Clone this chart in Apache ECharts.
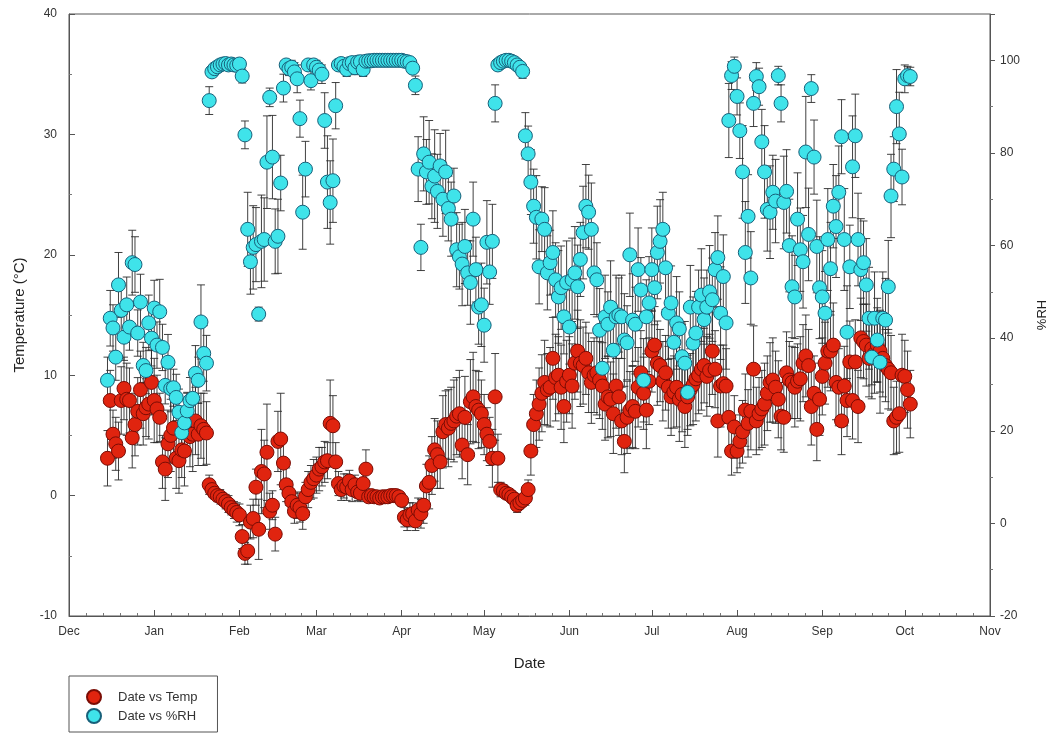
<!DOCTYPE html>
<html><head><meta charset="utf-8">
<script src="https://cdn.jsdelivr.net/npm/echarts@6/dist/echarts.min.js"></script>
<style>html,body{margin:0;padding:0;background:#fff}#c{width:1059px;height:733px}</style>
</head><body><div id="c"></div>
<script>
// first reading: 15 Dec 2005, one reading per day
const startDate = [2005, 11, 15];
const monthNames = ['Jan','Feb','Mar','Apr','May','Jun','Jul','Aug','Sep','Oct','Nov','Dec'];

const temp = [
/*Dec*/ 3.1,7.9,5.1,4.3,3.7,7.9,8.9,8.0,7.9,4.8,5.9,7.0,8.8,6.8,7.3,7.6,9.4,
/*Jan*/ 7.9,7.2,6.5,2.8,2.2,4.3,5.0,5.6,3.1,2.9,3.8,3.7,5.9,4.9,5.1,6.2,5.1,5.8,5.5,5.2,0.9,0.5,0.2,0.0,-0.1,-0.3,-0.5,-0.7,-1.0,-1.2,-1.4,
/*Feb*/ -1.6,-3.4,-4.8,-4.6,-2.2,-1.9,0.7,-2.8,2.0,1.8,3.6,-1.3,-0.8,-3.2,4.5,4.7,2.7,0.9,0.2,-0.5,-1.3,-0.8,-1.0,-1.5,-0.1,0.5,1.1,1.4,
/*Mar*/ 1.7,2.2,2.4,2.8,2.9,6.0,5.8,2.8,1.0,0.5,0.8,0.7,1.2,0.5,0.9,0.3,0.2,1.0,2.2,-0.1,0.0,-0.1,-0.1,-0.2,-0.1,-0.1,-0.1,0.0,0.0,0.0,-0.1,
/*Apr*/ -0.4,-1.8,-2.0,-1.6,-1.5,-2.1,-1.2,-1.5,-0.8,0.8,1.1,2.5,3.8,3.4,2.8,5.3,5.9,5.6,6.0,6.2,6.6,6.8,4.2,6.5,3.4,7.8,8.2,7.4,7.1,6.8,
/*May*/ 5.9,5.1,4.5,3.1,8.2,3.1,0.5,0.4,0.2,0.1,-0.1,-0.3,-0.8,-0.6,-0.4,-0.2,0.5,3.7,5.9,6.8,7.6,8.5,9.4,8.8,9.0,11.4,9.8,10.0,9.0,7.4,9.5,
/*Jun*/ 10.0,9.1,11.0,12.0,11.0,10.8,11.4,10.2,9.4,10.0,10.2,9.6,9.1,7.6,8.2,8.0,6.8,9.1,8.2,6.2,4.5,6.5,7.1,7.4,7.0,9.0,10.2,8.5,7.1,9.5,
/*Jul*/ 12.0,12.5,11.0,10.8,9.5,10.2,9.0,8.2,8.6,9.0,8.0,8.4,7.4,8.2,8.8,9.2,9.7,10.0,10.5,10.8,9.9,10.4,12.0,10.5,6.2,9.1,9.3,9.1,6.5,3.7,5.7,
/*Aug*/ 3.7,4.5,5.3,7.1,6.0,7.0,10.5,6.2,6.8,7.2,7.6,8.5,9.4,9.6,9.0,8.0,6.6,6.5,10.2,9.6,9.4,9.0,9.5,9.7,11.0,11.6,10.8,7.4,8.5,5.5,8.0,
/*Sep*/ 9.9,11.0,12.0,12.0,12.5,9.4,9.0,6.2,9.1,7.9,11.1,7.9,11.1,7.4,13.1,12.8,12.5,11.4,12.2,11.8,12.5,12.0,11.4,10.8,10.5,10.2,6.2,6.5,6.8,10.0,
/*Oct*/ 9.9,8.8,7.6
];

const tempErr = [
/*Dec*/ 2.3,2.5,2.0,2.2,2.4,2.8,2.6,3.0,2.7,2.5,2.6,2.8,3.2,2.6,2.4,2.9,2.7,
/*Jan*/ 3.5,2.8,2.0,2.2,2.6,2.8,3.0,2.4,2.5,2.7,2.3,2.9,2.6,2.5,3.1,2.8,2.6,2.7,3.0,2.6,0.8,0.6,0.5,0.5,0.6,0.5,0.6,0.7,0.6,0.7,0.8,
/*Feb*/ 0.9,1.0,0.9,1.1,1.4,1.6,1.5,2.5,3.5,2.8,4.0,1.5,1.2,1.4,2.5,3.8,2.2,1.4,1.0,0.9,1.0,1.1,1.2,1.3,1.2,1.5,1.4,1.6,
/*Mar*/ 1.5,1.8,1.6,1.7,1.5,3.6,2.5,1.6,1.0,0.9,1.0,1.1,0.9,1.0,0.8,0.7,0.7,0.9,1.6,0.4,0.3,0.3,0.3,0.3,0.3,0.2,0.3,0.3,0.3,0.3,0.3,
/*Apr*/ 0.5,0.8,0.9,1.0,0.9,0.8,1.0,1.2,1.5,1.8,2.2,2.4,2.6,2.8,2.2,3.0,2.8,3.2,3.0,3.4,3.2,3.6,2.8,3.4,2.5,3.5,3.7,3.0,3.2,2.8,
/*May*/ 2.5,2.2,2.0,2.4,3.6,2.0,0.6,0.5,0.4,0.4,0.5,0.5,0.6,0.5,0.5,0.6,0.8,2.0,2.5,2.8,3.0,3.2,3.5,3.0,3.3,3.4,3.6,3.2,3.5,3.0,3.4,
/*Jun*/ 3.2,3.5,3.0,3.4,3.6,3.2,3.0,3.3,3.4,3.1,3.5,3.2,3.6,3.0,3.4,3.1,3.3,3.5,3.2,2.8,2.6,3.0,3.2,3.4,3.1,3.3,3.5,3.0,3.2,3.6,
/*Jul*/ 3.4,3.2,3.5,3.0,3.3,3.1,3.4,3.2,3.0,3.3,3.5,3.1,3.4,3.2,3.0,3.3,3.5,3.2,3.4,3.1,3.3,3.0,3.6,3.2,3.0,3.4,3.2,3.1,2.8,2.0,2.6,
/*Aug*/ 1.8,2.2,2.6,3.0,2.8,3.2,3.6,2.8,3.0,3.2,3.4,3.1,3.3,3.5,3.0,3.2,2.8,2.9,3.4,3.2,3.0,3.3,3.1,3.5,3.2,3.4,3.0,3.2,3.1,2.6,3.0,
/*Sep*/ 3.2,3.4,3.0,3.3,3.5,3.1,3.2,2.8,3.3,3.0,3.4,3.2,3.5,3.0,3.3,3.1,3.4,3.2,3.0,3.3,3.1,3.4,3.2,3.0,3.3,3.1,2.8,3.0,3.2,3.4,
/*Oct*/ 3.0,3.2,2.8
];

const rh = [
/*Dec*/ 30.9,44.3,42.2,35.9,51.5,46.0,40.2,47.2,42.4,56.3,55.9,41.1,47.8,34.1,33.0,43.3,40.0,
/*Jan*/ 46.5,38.5,45.7,38.0,29.8,34.8,29.1,29.3,27.2,24.0,19.6,21.7,24.3,26.5,27.0,32.4,30.9,43.5,36.7,34.6,91.3,97.5,98.2,98.6,99.0,99.2,99.3,99.0,99.2,99.0,98.9,
/*Feb*/ 99.2,96.6,83.9,63.5,56.5,59.6,60.2,45.2,60.9,61.3,78.0,92.0,79.1,60.9,62.0,73.5,94.0,99.0,98.2,98.5,97.5,96.0,87.4,67.2,76.5,99.0,95.6,99.0,
/*Mar*/ 98.5,97.9,97.0,87.0,73.7,69.3,74.0,90.2,99.0,99.3,98.7,98.0,99.3,99.5,98.4,99.6,99.7,98.0,99.8,99.9,99.9,100,100,100,100,100,100,100,100,100,100,
/*Apr*/ 100,99.8,99.7,99.5,98.3,94.6,76.5,59.6,79.8,75.9,78.0,72.8,75.0,71.7,77.2,70.0,75.9,68.0,65.7,70.7,59.1,57.6,56.0,59.8,54.1,52.0,65.7,54.8,46.7,47.2,
/*May*/ 42.8,60.7,54.3,60.9,90.7,99.0,99.5,99.8,100,100,99.8,99.5,99.0,98.5,97.6,83.7,79.8,73.7,68.5,66.1,55.4,65.7,63.5,54.1,56.3,58.5,52.6,48.9,50.9,44.6,52.0,
/*Jun*/ 42.4,52.6,54.1,51.1,57.0,62.8,68.5,67.2,63.5,54.1,52.6,41.7,33.5,44.6,43.0,46.7,37.4,44.6,45.0,44.6,39.6,39.0,58.0,43.9,43.0,54.8,50.4,30.9,44.6,47.6,
/*Jul*/ 54.8,50.9,58.5,60.9,63.5,55.2,45.4,47.6,39.1,43.3,42.0,36.0,34.6,28.3,46.7,38.9,41.1,46.7,49.3,44.0,46.7,50.0,48.3,54.8,57.4,45.4,53.3,43.3,87.0,96.7,98.7,
/*Aug*/ 92.2,84.8,75.9,58.5,66.3,53.0,90.7,96.5,94.3,82.4,75.9,67.8,67.2,71.5,69.6,96.7,90.7,69.3,71.7,60.0,51.1,48.9,65.7,59.1,56.5,80.2,62.4,93.9,79.1,59.8,50.9,
/*Sep*/ 48.9,45.4,61.3,55.0,68.5,64.1,71.5,83.5,61.3,41.3,55.4,77.0,83.7,61.3,54.8,56.3,51.5,44.3,35.9,44.3,39.6,34.8,44.3,43.9,51.1,70.7,76.5,90.0,84.1,74.8,
/*Oct*/ 96.0,96.7,96.5
];

const rhErr = [
/*Dec*/ 5,6,5,5,7,6,5,6,5,7,6,5,6,5,5,6,6,
/*Jan*/ 6,5,7,5,4,6,5,4,5,5,4,5,4,5,5,6,5,8,6,6,3,1,1,0.8,0.6,0.5,0.5,0.6,0.5,0.6,0.7,
/*Feb*/ 0.8,1.5,3,8,7,9,8,1.5,10,9,10,2,9,7,8,6,3,1,1.5,1.5,2,3,4,8,6,1,2,1,
/*Mar*/ 1.5,1.5,2,6,10,9,9,5,1,1,1,1.5,1,1,1.5,0.8,0.8,1.5,0.5,0.4,0.4,0.4,0.3,0.3,0.3,0.3,0.3,0.3,0.3,0.3,0.3,
/*Apr*/ 0.3,0.4,0.5,0.6,1,2,7,5,8,7,9,7,10,8,7,8,9,7,8,6,8,7,9,8,7,9,8,7,8,9,
/*May*/ 8,9,7,8,4,1,0.8,0.5,0.4,0.4,0.5,0.6,0.8,1,1.5,5,6,7,8,9,8,7,9,8,7,9,8,10,9,8,9,
/*Jun*/ 8,9,10,9,8,10,9,8,10,9,8,9,8,9,7,10,8,9,8,9,10,8,9,10,8,9,7,9,8,10,
/*Jul*/ 9,8,10,9,8,9,10,8,9,10,8,7,9,8,9,10,9,8,10,9,8,10,9,8,9,10,9,10,8,3,2,
/*Aug*/ 4,6,10,11,9,10,5,3,4,7,10,9,10,8,9,2,4,10,9,10,11,9,10,9,10,12,10,3,8,10,11,
/*Sep*/ 10,9,11,10,9,11,10,8,11,10,9,11,9,10,11,9,10,11,9,10,9,11,10,9,10,9,7,8,9,6,
/*Oct*/ 3,2,2
];

const N = temp.length;
if ([tempErr, rh, rhErr].some(a => a.length !== N)) {
  throw new Error('length mismatch ' + [N, tempErr.length, rh.length, rhErr.length].join(','));
}
const dates = temp.map((_, i) => new Date(startDate[0], startDate[1], startDate[2] + i).getTime());
const tempPts = dates.map((d, i) => [d, temp[i]]);
const rhPts = dates.map((d, i) => [d, rh[i]]);
const tempBars = dates.map((d, i) => [d, temp[i] - tempErr[i], temp[i] + tempErr[i]]);
const rhBars = dates.map((d, i) => [d, rh[i] - rhErr[i], rh[i] + rhErr[i]]);

const FONT = 'Liberation Sans, Arial, sans-serif';
const barColor = '#2b2b2b';
function errRender(params, api) {
  const x = api.value(0);
  const top = api.coord([x, api.value(2)]);
  const bot = api.coord([x, api.value(1)]);
  const w = 4;
  const st = { stroke: barColor, lineWidth: 0.9 };
  return {
    type: 'group',
    children: [
      { type: 'line', shape: { x1: top[0], y1: top[1], x2: bot[0], y2: bot[1] }, style: st },
      { type: 'line', shape: { x1: top[0] - w, y1: top[1], x2: top[0] + w, y2: top[1] }, style: st },
      { type: 'line', shape: { x1: bot[0] - w, y1: bot[1], x2: bot[0] + w, y2: bot[1] }, style: st }
    ]
  };
}

const chart = echarts.init(document.getElementById('c'), null, { renderer: 'canvas' });
const axisLine = { show: true, onZero: false, lineStyle: { color: '#555', width: 1 } };
const labelStyle = { color: '#333', fontFamily: FONT, fontSize: 12 };
chart.setOption({
  animation: false,
  backgroundColor: '#fff',
  textStyle: { fontFamily: FONT },
  grid: { left: 69, right: 69, top: 14, bottom: 117, show: true, borderColor: '#555', borderWidth: 1, backgroundColor: 'transparent' },
  legend: {
    orient: 'vertical', left: 69, top: 676,
    data: ['Date vs Temp', 'Date vs %RH'],
    icon: 'circle', itemWidth: 14, itemHeight: 14, itemGap: 3,
    padding: [13, 20, 8, 17],
    borderColor: '#555', borderWidth: 1,
    textStyle: { color: '#333', fontFamily: FONT, fontSize: 13, padding: [0, 0, 0, 12] }
  },
  xAxis: {
    type: 'time',
    min: new Date(2005, 11, 1).getTime(),
    max: new Date(2006, 10, 1).getTime(),
    splitNumber: 11,
    minInterval: 28 * 86400000,
    maxInterval: 31 * 86400000,
    name: 'Date', nameLocation: 'middle', nameGap: 40,
    nameTextStyle: { color: '#222', fontFamily: FONT, fontSize: 15 },
    axisLine: axisLine,
    axisTick: { show: true, inside: true, length: 6, lineStyle: { color: '#555' } },
    minorTick: { show: true, splitNumber: 5, length: 3, lineStyle: { color: '#777' } },
    splitLine: { show: false },
    axisLabel: Object.assign({}, labelStyle, {
      margin: 10,
      showMinLabel: true, showMaxLabel: true,
      formatter: v => monthNames[new Date(v).getMonth()]
    })
  },
  yAxis: [
    {
      type: 'value', min: -10, max: 40, interval: 10,
      name: 'Temperature (°C)', nameLocation: 'middle', nameGap: 42,
      nameTextStyle: { color: '#222', fontFamily: FONT, fontSize: 15 },
      axisLine: axisLine,
      axisTick: { show: true, inside: true, length: 6, lineStyle: { color: '#555' } },
      minorTick: { show: true, splitNumber: 2, length: 3, lineStyle: { color: '#777' } },
      splitLine: { show: false },
      axisLabel: Object.assign({}, labelStyle, { margin: 12 })
    },
    {
      type: 'value', min: -20, max: 110, interval: 20, position: 'right',
      name: '%RH', nameLocation: 'middle', nameGap: 46, nameRotate: 90,
      nameTextStyle: { color: '#222', fontFamily: FONT, fontSize: 13 },
      axisLine: axisLine,
      axisTick: { show: true, inside: false, length: 5, lineStyle: { color: '#555' } },
      minorTick: { show: true, splitNumber: 2, length: 3, lineStyle: { color: '#777' } },
      splitLine: { show: false },
      axisLabel: Object.assign({}, labelStyle, { margin: 10, showMaxLabel: false })
    }
  ],
  series: [
    {
      name: 'tempErr', type: 'custom', xAxisIndex: 0, yAxisIndex: 0,
      renderItem: errRender, data: tempBars, encode: { x: 0, y: [1, 2] }, silent: true
    },
    {
      name: 'Date vs Temp', type: 'scatter', xAxisIndex: 0, yAxisIndex: 0,
      data: tempPts, symbol: 'circle', symbolSize: 14,
      itemStyle: { color: '#e0240f', borderColor: '#7a0c05', borderWidth: 1, opacity: 1 }
    },
    {
      name: 'rhErr', type: 'custom', xAxisIndex: 0, yAxisIndex: 1,
      renderItem: errRender, data: rhBars, encode: { x: 0, y: [1, 2] }, silent: true
    },
    {
      name: 'Date vs %RH', type: 'scatter', xAxisIndex: 0, yAxisIndex: 1,
      data: rhPts, symbol: 'circle', symbolSize: 14,
      itemStyle: { color: '#3fe3ea', borderColor: '#17607a', borderWidth: 1, opacity: 1 }
    }
  ]
});
</script>
</body></html>
